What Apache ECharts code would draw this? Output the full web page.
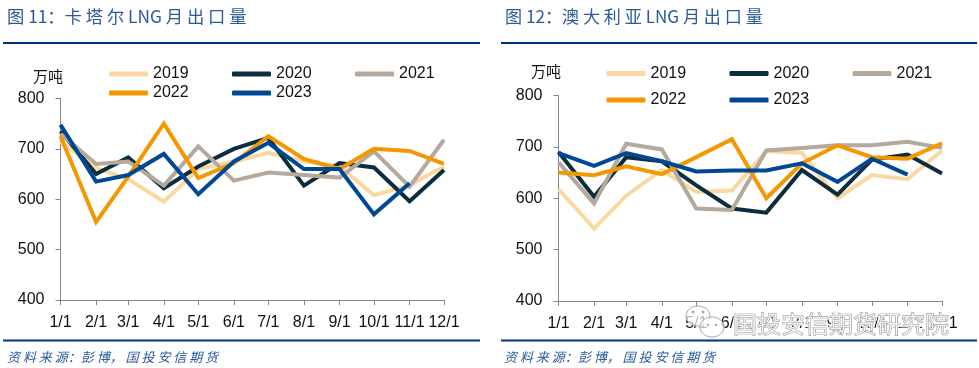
<!DOCTYPE html>
<html>
<head>
<meta charset="utf-8">
<style>html,body{margin:0;padding:0;background:#fff}#c{width:979px;height:368px}</style>
<script src="https://cdn.jsdelivr.net/npm/echarts@6/dist/echarts.min.js"></script>
</head>
<body>
<div id="c"></div>
<script>
const months = ['2023-01-01','2023-02-01','2023-03-01','2023-04-01','2023-05-01','2023-06-01','2023-07-01','2023-08-01','2023-09-01','2023-10-01','2023-11-01','2023-12-01'];
const tickLabels = ['1/1','2/1','3/1','4/1','5/1','6/1','7/1','8/1','9/1','10/1','11/1','12/1'];
const years = ['2019','2020','2021','2022','2023'];
const colors = ['#FAD9A0','#0B2D3E','#B5A99D','#F39800','#004896'];

const qatar2019 = [715,662,640,595,660,675,692,675,665,608,628,665];
const qatar2020 = [735,650,683,622,665,700,722,627,672,663,596,658];
const qatar2021 = [730,670,675,627,705,637,653,648,643,695,625,718];
const qatar2022 = [725,555,645,750,642,672,725,680,660,700,696,670];
const qatar2023 = [748,635,648,690,610,675,712,660,660,570,632];

const aus2019 = [618,541,605,655,612,615,692,688,600,645,637,693];
const aus2020 = [690,603,680,672,625,580,572,655,607,675,685,648];
const aus2021 = [670,590,706,695,580,577,693,698,703,703,710,698];
const aus2022 = [650,645,662,647,680,715,600,668,703,680,677,707];
const aus2023 = [688,663,688,672,652,654,654,668,632,677,646];

const title1 = '图 11：卡 塔 尔 LNG 月 出 口 量';
const title2 = '图 12：澳 大 利 亚 LNG 月 出 口 量';
const source = '资 料 来 源：彭 博， 国 投 安 信 期 货';
const unit = '万吨';
const watermark = '国投安信期货研究院';

const labelFont = '"Liberation Sans", Arial, sans-serif';
const cjk = '"Noto Sans CJK SC", sans-serif';
const axisColor = '#868686';
const navy = '#003087';

function mkSeries(list, idx) {
  return list.map((v, i) => ({
    name: years[i], type: 'line', xAxisIndex: idx, yAxisIndex: idx,
    data: v.map((y, j) => [months[j], y]),
    symbol: 'none', smooth: false, clip: false,
    lineStyle: {color: colors[i], width: 4, join: 'miter', cap: 'butt'},
    itemStyle: {color: colors[i]},
    emphasis: {disabled: true}
  }));
}
function mkX(idx) {
  return {
    type: 'time', gridIndex: idx,
    min: months[0], max: months[11],
    splitNumber: 12, minInterval: 28 * 864e5,
    axisLine: {show: true, lineStyle: {color: axisColor, width: 1}},
    axisTick: {show: true, length: 5, lineStyle: {color: axisColor}},
    minorTick: {show: false}, splitLine: {show: false},
    axisLabel: {
      show: true, margin: 15, color: '#111', fontFamily: labelFont, fontSize: 16,
      hideOverlap: false, showMinLabel: true, showMaxLabel: true,
      alignMinLabel: 'center', alignMaxLabel: 'center',
      formatter: v => tickLabels[new Date(v).getMonth()]
    }
  };
}
function mkY(idx) {
  return {
    type: 'value', gridIndex: idx, min: 400, max: 800, interval: 100,
    axisLine: {show: true, lineStyle: {color: axisColor, width: 1}},
    axisTick: {show: true, length: 5, lineStyle: {color: axisColor}},
    splitLine: {show: false},
    axisLabel: {margin: 16, color: '#111', fontFamily: labelFont, fontSize: 16}
  };
}
function mkLegend(i, left, centerY) {
  return {
    data: [years[i]], left, top: centerY - 9, itemWidth: 39, itemHeight: 5,
    icon: 'roundRect', padding: 0, selectedMode: false, orient: 'horizontal',
    textStyle: {color: '#111', fontFamily: labelFont, fontSize: 16, lineHeight: 18}
  };
}
function txt(x, y, text, font, color, extra) {
  return {
    type: 'text', x, y, silent: true, z: 50,
    style: Object.assign({text, font, fill: color, verticalAlign: 'middle'}, extra || {})
  };
}
function rule(x1, x2, y) {
  return {type: 'line', silent: true, shape: {x1, y1: y, x2, y2: y}, style: {stroke: navy, lineWidth: 2}};
}
const list1 = [qatar2019, qatar2020, qatar2021, qatar2022, qatar2023];
const list2 = [aus2019, aus2020, aus2021, aus2022, aus2023];

const wmStroke = {stroke: '#a8a8a8', lineWidth: 1, fill: 'rgba(255,255,255,0.7)'};
const dot = {fill: '#a8a8a8'};
const chart = echarts.init(document.getElementById('c'));
chart.setOption({
  animation: false,
  backgroundColor: '#fff',
  grid: [
    {left: 60.5, top: 98.5, width: 383.5, height: 201.5},
    {left: 558.5, top: 95.5, width: 383.5, height: 205.5}
  ],
  xAxis: [mkX(0), mkX(1)],
  yAxis: [mkY(0), mkY(1)],
  legend: [
    mkLegend(0, 109, 74), mkLegend(1, 232, 74), mkLegend(2, 355, 74),
    mkLegend(3, 109, 93), mkLegend(4, 232, 93),
    mkLegend(0, 606.5, 73.5), mkLegend(1, 729.5, 73.5), mkLegend(2, 852.5, 73.5),
    mkLegend(3, 606.5, 100), mkLegend(4, 729.5, 100)
  ],
  series: mkSeries(list1, 0).concat(mkSeries(list2, 1)),
  graphic: [
    txt(7, 16, title1, '17.3px ' + cjk, '#2A5B97'),
    txt(505, 16, title2, '17.1px ' + cjk, '#2A5B97'),
    txt(7, 357, source, 'italic 13px ' + cjk, '#2A5B97'),
    txt(504, 357, source, 'italic 13px ' + cjk, '#2A5B97'),
    rule(3, 480, 43), rule(501, 977, 43),
    rule(3, 480, 340.5), rule(501, 977, 340.5),
    txt(33, 76, unit, '15px ' + cjk, '#111'),
    txt(531, 71, unit, '15px ' + cjk, '#111'),
    {type: 'ellipse', silent: true, z: 60, shape: {cx: 698, cy: 316, rx: 12, ry: 10}, style: wmStroke},
    {type: 'ellipse', silent: true, z: 61, shape: {cx: 712, cy: 327, rx: 12, ry: 10}, style: wmStroke},
    {type: 'circle', silent: true, z: 62, shape: {cx: 693, cy: 312, r: 1.5}, style: dot},
    {type: 'circle', silent: true, z: 62, shape: {cx: 703, cy: 312, r: 1.5}, style: dot},
    {type: 'circle', silent: true, z: 62, shape: {cx: 708, cy: 325, r: 1.2}, style: dot},
    {type: 'circle', silent: true, z: 62, shape: {cx: 716, cy: 325, r: 1.2}, style: dot},
    Object.assign(txt(733, 324, watermark, '24px ' + cjk, 'rgba(255,255,255,0.85)', {stroke: 'rgba(255,255,255,0.9)', lineWidth: 3}), {z: 62}),
    Object.assign(txt(733, 324, watermark, '24px ' + cjk, 'rgba(255,255,255,0.55)', {stroke: '#808080', lineWidth: 0.7}), {z: 63})
  ]
});
</script>
</body>
</html>
